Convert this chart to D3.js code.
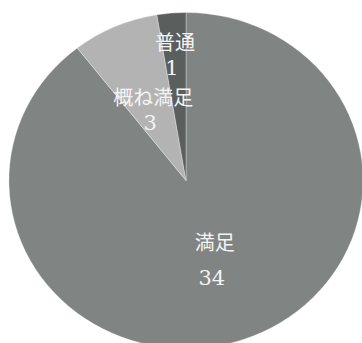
<!DOCTYPE html>
<html>
<head>
<meta charset="utf-8">
<script src="https://cdn.jsdelivr.net/npm/d3@7"></script>
<style>
  body { margin: 0; background: #fff; }
  svg { display: block; }
  .lbl { fill: #f4f4f4; font-family: "DejaVu Serif", "Noto Sans CJK JP", serif; }
  .name { font-family: "Noto Sans CJK JP", serif; font-size: 20px; }
  .num { font-size: 21px; }
</style>
</head>
<body>
<div id="chart"></div>
<script>
var categories = ["満足", "概ね満足", "普通"];
var values = [34, 3, 1];
var colors = ["#808584", "#b3b3b3", "#5a5f5e"];

var width = 362, height = 343;
var cx = 186, cy = 180.5, radius = 168, stretch = 1.054;

// where each label sits, as a share of the radius, and the gap between name and number
var labelRadius = [0.5, 0.46, 0.75];
var labelGap = [36, 26, 26];

var svg = d3.select("#chart").append("svg")
    .attr("width", width)
    .attr("height", height);

var g = svg.append("g")
    .attr("transform", "translate(" + cx + "," + cy + ") scale(" + stretch + ",1)");

var pie = d3.pie().sort(null).value(function(d) { return d; });
var arcs = pie(values);

var arc = d3.arc().innerRadius(0).outerRadius(radius);

g.selectAll("path.slice")
    .data(arcs)
  .enter().append("path")
    .attr("class", "slice")
    .attr("d", arc)
    .attr("fill", function(d, i) { return colors[i]; })
    .attr("stroke", "rgba(255,255,255,0.5)")
    .attr("stroke-width", 0.6);

var labels = svg.append("g")
    .attr("transform", "translate(" + cx + "," + cy + ")");

arcs.forEach(function(d, i) {
  var r = radius * labelRadius[i];
  var c = d3.arc().innerRadius(r).outerRadius(r).centroid(d);
  var x = c[0] * stretch, y = c[1];

  labels.append("text")
      .attr("class", "lbl name")
      .attr("x", x)
      .attr("y", y - labelGap[i] / 2)
      .attr("text-anchor", "middle")
      .attr("dominant-baseline", "central")
      .text(categories[i]);

  labels.append("text")
      .attr("class", "lbl num")
      .attr("x", x - 3)
      .attr("y", y + labelGap[i] / 2)
      .attr("text-anchor", "middle")
      .attr("dominant-baseline", "central")
      .text(values[i]);
});
</script>
</body>
</html>
